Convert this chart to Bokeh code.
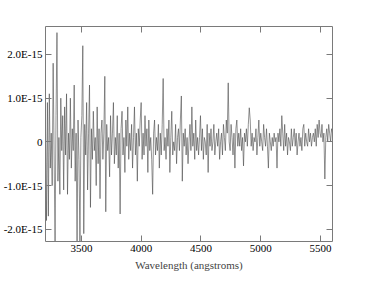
import numpy as np
from bokeh.plotting import figure
from bokeh.models import LinearAxis, FixedTicker, Range1d
from bokeh.embed import file_html
from bokeh.resources import INLINE

# Wavelength grid (angstroms)
wl_start = 3200
wl_step = 8
# Flux in units of 1E-15
flux = [
    0.3, -1.8, 0.9, -1.7, 1.1, -0.6, 0.2, -1.0, 1.8, -0.3, -2.3, 0.6, 2.5, -0.9, 0.1, -1.2, 1.0, -0.2, 0.6, -1.1,
    0.8, -0.3, 1.1, -1.2, 0.2, -0.4, 1.0, -0.6, 0.3, -0.2, 1.3, -0.9, 0.2, -2.3, 0.5, -0.4, -2.3, 0.1, 0.6, 2.2,
    -2.1, 0.4, -0.3, 0.9, -1.1, 0.2, 1.3, -1.5, 0.3, -0.4, 0.7, -0.2, 0.1, -1.0, 0.8, -0.5, 0.3, -1.3, 0.2, 0.5,
    -0.4, 0.2, 1.5, -1.6, 0.4, -0.2, 0.1, -0.8, 0.6, -0.3, 0.2, 0.9, -0.5, 0.1, -0.3, 0.6, -0.6, 0.2, -1.65, 0.3,
    0.7, -0.3, 0.1, -0.7, 0.5, -0.1, 0.8, -0.4, 0.2, -0.2, 0.4, -0.6, 0.1, 0.8, -0.3, 0.2, -0.9, 0.3, -0.1, 0.5,
    0.9, -0.4, 0.2, -0.3, 0.6, -0.1, 0.3, -0.7, 0.5, -0.2, 0.1, -0.4, -1.2, 0.2, 0.5, -0.3, 0.1, -0.2, 0.4, -0.6,
    0.2, -0.3, 0.4, 1.45, -0.2, 0.1, -0.4, 0.3, -0.1, 0.5, -0.7, 0.1, 0.7, -0.3, 0.0, -0.2, 0.4, -0.5, 0.1, 0.3,
    -0.2, 0.5, 1.05, -0.9, 0.2, -0.1, 0.3, -0.3, 0.1, -0.5, 0.0, 0.4, -0.2, 0.8, -0.1, 0.2, -0.4, 0.5, -0.2, 0.1,
    -0.3, 0.1, 0.6, -0.2, 0.3, -0.4, 0.1, 0.0, -0.3, 0.4, -0.7, 0.2, -0.1, 0.3, -0.2, 0.0, 0.4, -0.3, 0.0, 0.2,
    -0.1, 0.3, -0.4, 0.0, 0.2, -0.3, 0.4, 0.1, -0.2, 0.5, 0.2, 1.35, 0.0, -0.2, 0.4, 0.1, -0.3, 0.2, -0.6, 0.3,
    0.5, -0.1, 0.2, -0.1, 0.3, -0.2, 0.1, -0.55, 0.2, 0.0, 0.3, -0.1, 0.4, 0.78, 0.5, -0.1, 0.2, -0.2, 0.1, 0.0,
    0.3, -0.3, 0.1, 0.5, -0.1, 0.2, 0.0, -0.2, 0.4, 0.1, -0.1, 0.3, -0.1, -0.6, 0.2, 0.0, -0.2, 0.1, -0.1, 0.2,
    0.0, 0.1, -0.6, 0.2, 0.0, 0.3, -0.1, 0.6, 0.2, -0.2, 0.4, -0.1, 0.2, -0.3, 0.1, 0.0, -0.2, 0.3, -0.1, 0.1,
    0.3, -0.1, 0.2, -0.3, 0.0, 0.2, -0.1, 0.1, -0.2, 0.3, 0.4, -0.1, 0.2, 0.0, -0.1, 0.3, 0.0, 0.2, -0.1, 0.1,
    0.2, 0.0, 0.3, -0.1, 0.4, 0.1, 0.5, 0.2, 0.1, 0.4, 0.0, 0.2, -0.85, 0.1, 0.3, 0.0, 0.4, 0.2, 0.0, 0.3, 0.2,
]
wavelength = wl_start + wl_step * np.arange(len(flux))

x_ticks = [3500, 4000, 4500, 5000, 5500]
y_ticks = [-2, -1, 0, 1, 2]
y_tick_labels = {-2: "-2.0E-15", -1: "-1.0E-15", 0: "0", 1: "1.0E-15", 2: "2.0E-15"}

FONT = "Liberation Serif"
AX = "#7a7a7a"

p = figure(width=361, height=275, output_backend="svg", toolbar_location=None,
           x_range=Range1d(3200, 5600), y_range=Range1d(-2.28, 2.64),
           x_axis_label="Wavelength (angstroms)",
           min_border_left=40, min_border_right=29, min_border_top=26, min_border_bottom=34)
p.outline_line_color = None
p.xgrid.visible = False
p.ygrid.visible = False
p.background_fill_color = "white"

p.line(wavelength, flux, line_color="#4a4a4a", line_width=0.6)

def style(ax, show_labels):
    ax.axis_line_color = AX
    ax.major_tick_line_color = AX
    ax.major_tick_in = 6
    ax.major_tick_out = 0
    ax.minor_tick_line_color = None
    ax.major_label_text_font = FONT
    ax.major_label_text_font_size = "11px"
    ax.major_label_standoff = 3
    ax.major_label_text_color = "black" if show_labels else None

xa = p.xaxis[0]
xa.ticker = FixedTicker(ticks=x_ticks)
style(xa, True)
xa.axis_label_text_font = FONT
xa.axis_label_text_font_size = "11px"
xa.axis_label_text_font_style = "normal"
xa.axis_label_standoff = 4

ya = p.yaxis[0]
ya.ticker = FixedTicker(ticks=y_ticks)
ya.major_label_overrides = y_tick_labels
style(ya, True)

top = LinearAxis(ticker=FixedTicker(ticks=x_ticks))
style(top, False)
p.add_layout(top, "above")
right = LinearAxis(ticker=FixedTicker(ticks=y_ticks))
style(right, False)
p.add_layout(right, "right")

open("out.html", "w").write(file_html(p, INLINE))
